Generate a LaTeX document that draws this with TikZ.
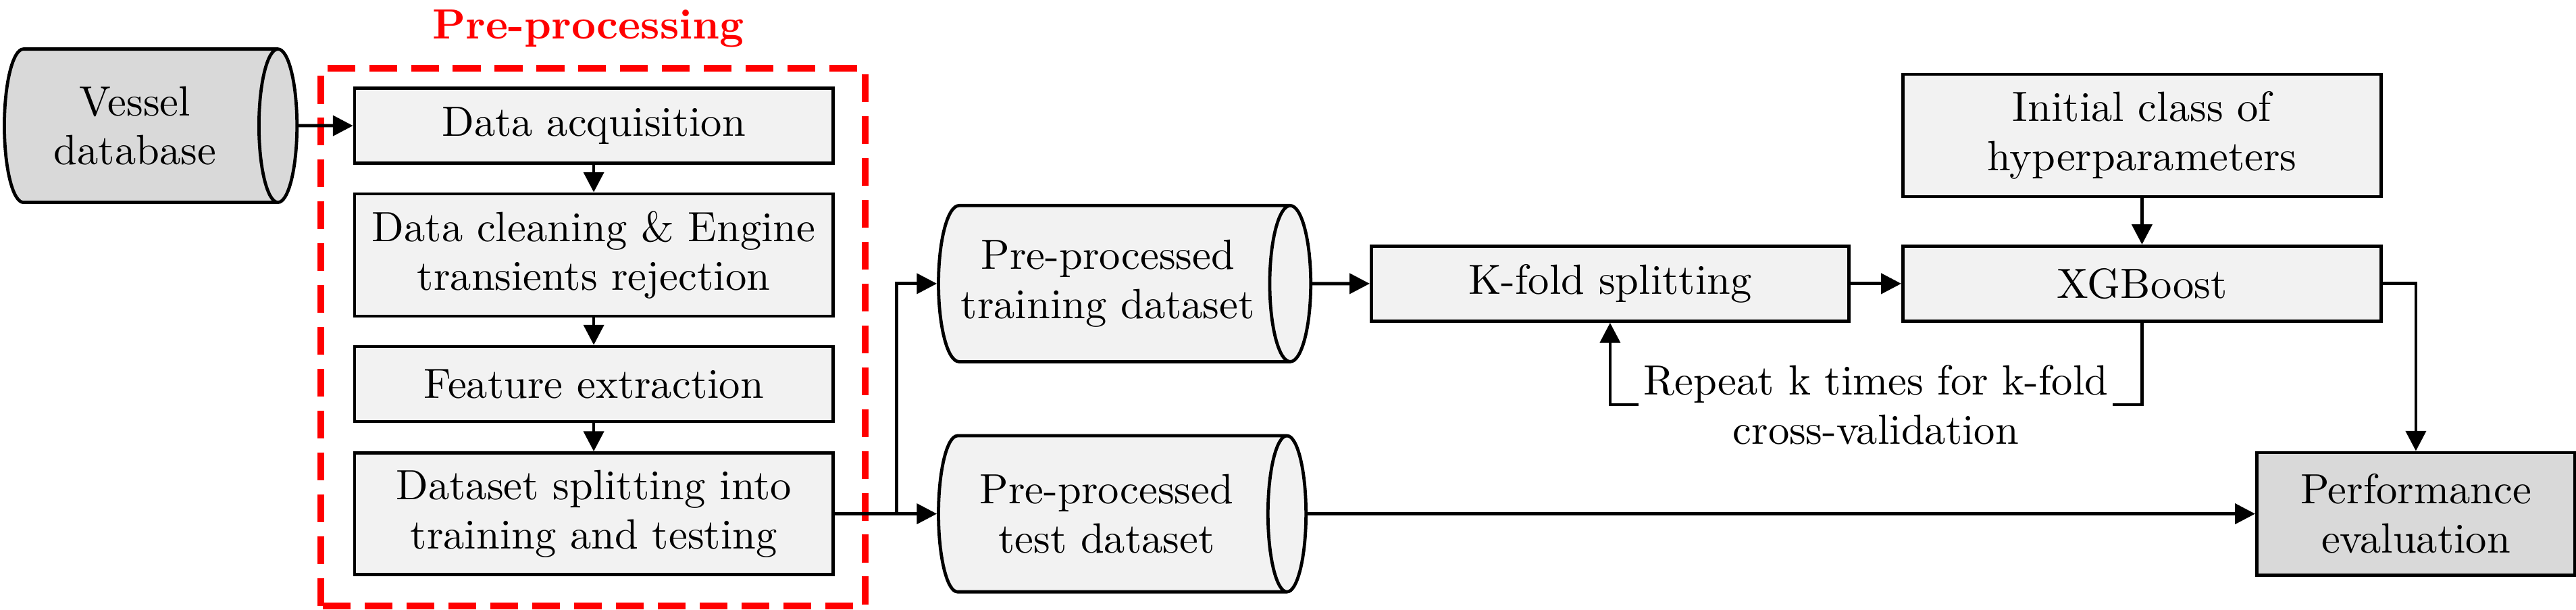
\documentclass[tikz,border=0pt]{standalone}
\usepackage{tikz}
\usetikzlibrary{shapes.geometric,arrows.meta}
\definecolor{lightfill}{rgb}{.95,.95,.95}
\definecolor{midfill}{rgb}{.85,.85,.85}
\definecolor{prered}{rgb}{1,0,0}

\begin{document}
\begin{tikzpicture}[font=\fontsize{10.5}{12.2}\selectfont,
	procbox/.style={draw, thick, fill=lightfill, align=center, minimum width=4.177cm, minimum height=0.655cm, inner sep=2pt},
	dbcyl/.style={cylinder, draw, thick, fill=lightfill, align=center, anchor=west, shape aspect=0.36, minimum height=3.21cm, minimum width=1.363cm},
	flow/.style={thick, -{Triangle[length=5pt,width=5pt]}}]
	
	\useasboundingbox (0,0) rectangle (22.50,5.322);
	
	% pre-processing block
	\draw[prered, line width=1.7pt, dash pattern=on 6.9pt off 3.5pt] (2.803,0.030) rectangle (7.558,4.726);
	\node[prered, anchor=base, font=\fontsize{10.5}{12.2}\selectfont\bfseries] (pretitle) at (5.139,4.980) {Pre-processing};
	
	\node[dbcyl, fill=midfill, minimum height=2.556cm, minimum width=1.339cm] (vessel) at (0.024,4.224) {Vessel\\database};
	\node[procbox] (acq) at (5.186,4.224) {Data acquisition};
	\node[procbox, minimum height=1.068cm] (clean) at (5.186,3.095) {Data cleaning \& Engine\\transients rejection};
	\node[procbox] (feat) at (5.186,1.968) {Feature extraction};
	\node[procbox, minimum height=1.062cm] (split) at (5.186,0.835) {Dataset splitting into\\training and testing};
	
	% datasets
	\node[dbcyl] (train) at (8.183,2.845) {Pre-processed\\training dataset};
	\node[dbcyl] (test) at (8.183,0.835) {Pre-processed\\test dataset};
	
	\node[procbox, minimum width=4.171cm] (kfold) at (14.063,2.845) {K-fold splitting};
	\node[procbox] (xgb) at (18.709,2.845) {XGBoost};
	\node[procbox, minimum height=1.068cm] (init) at (18.709,4.139) {Initial class of\\hyperparameters};
	\node[procbox, fill=midfill, minimum width=2.779cm, minimum height=1.068cm] (perf) at (21.101,0.835) {Performance\\evaluation};
	\node[align=center, inner sep=1pt] (repeat) at (16.384,1.788) {Repeat k times for k-fold\\cross-validation};
	
	\coordinate (fork) at (7.829,0.835);
	
	\draw[flow] (vessel.east) -- (acq.west);
	\draw[flow] (acq.south) -- (clean.north);
	\draw[flow] (clean.south) -- (feat.north);
	\draw[flow] (feat.south) -- (split.north);
	\draw[thick] (split.east) -- (fork);
	\draw[flow] (fork) |- (train.west);
	\draw[flow] (fork) -- (test.west);
	\draw[flow] (train.east) -- (kfold.west);
	\draw[flow] (kfold.east) -- (xgb.west);
	\draw[flow] (init.south) -- (xgb.north);
	\draw[thick] (xgb.south) |- (repeat.east);
	\draw[flow] (repeat.west) -| (kfold.south);
	\draw[flow] (xgb.east) -| (perf.north);
	\draw[flow] (test.east) -- (perf.west);
	
\end{tikzpicture}
\end{document}
